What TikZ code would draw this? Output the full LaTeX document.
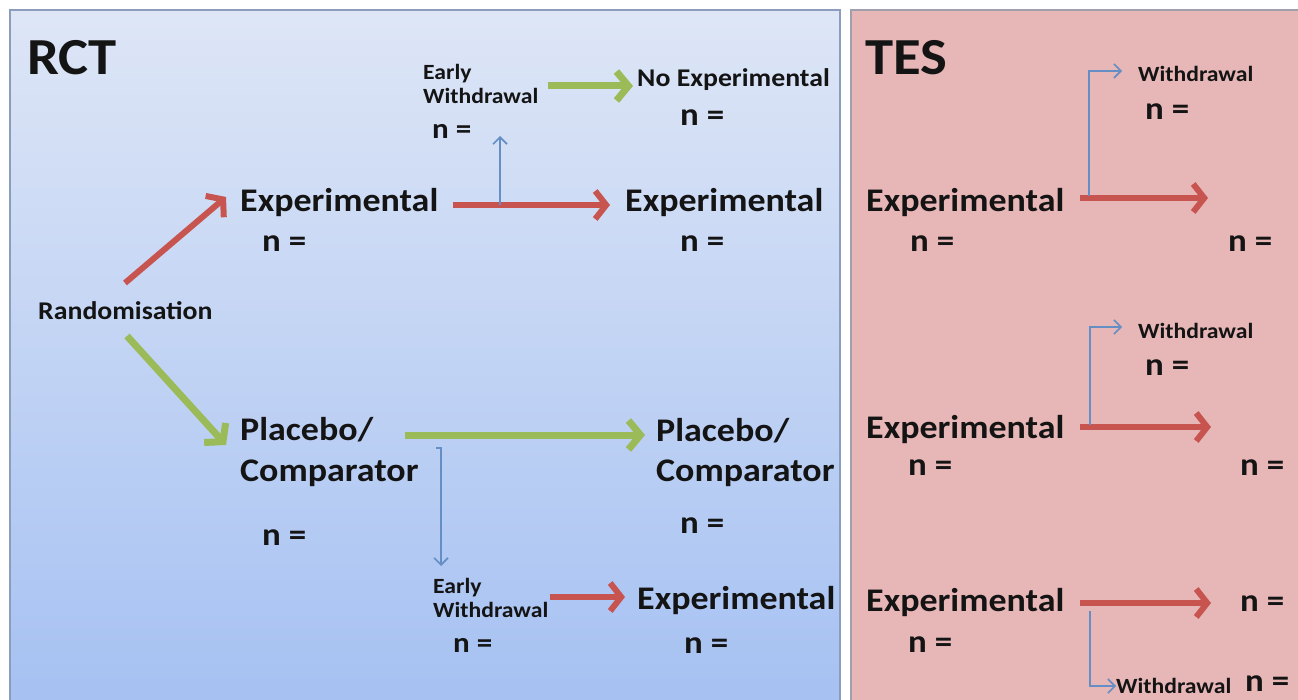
\documentclass[tikz,border=0pt]{standalone}
\usepackage{fontspec}
\setmainfont{Carlito}[FakeStretch=1.09]
\usetikzlibrary{arrows.meta}
\definecolor{redA}{RGB}{200,84,80}
\definecolor{greenA}{RGB}{155,187,89}
\definecolor{blueA}{RGB}{100,142,196}
\definecolor{panelTop}{RGB}{222,230,246}
\definecolor{panelBot}{RGB}{164,192,242}
\definecolor{panelBorder}{RGB}{140,156,188}
\definecolor{pinkFill}{RGB}{231,182,182}
\definecolor{pinkBorder}{RGB}{160,160,172}
\definecolor{ink}{RGB}{20,20,20}
\tikzset{
  base/.style={inner sep=0pt, anchor=west, text=ink},
  big/.style={base, font=\bfseries\fontsize{33}{38}\selectfont},
  nbig/.style={base, font=\bfseries\fontsize{32}{36}\selectfont},
  mid/.style={base, font=\bfseries\fontsize{25.5}{30}\selectfont},
  small/.style={base, font=\bfseries\fontsize{21.7}{24}\selectfont, align=left},
  nsmall/.style={base, font=\bfseries\fontsize{28.5}{32}\selectfont},
  randfont/.style={base, font=\bfseries\fontsize{25.5}{29}\selectfont},
  title/.style={base, font=\bfseries\fontsize{52}{60}\selectfont},
  redarrow/.style={draw=redA, line width=6pt, -{Straight Barb[length=11pt,width=28pt]}},
  greenarrow/.style={draw=greenA, line width=7pt, -{Straight Barb[length=12pt,width=29pt]}},
  bluearrow/.style={draw=blueA, line width=1.6pt, -{Straight Barb[length=7pt,width=14pt]}},
}
\begin{document}
\begin{tikzpicture}[x=1pt,y=-1pt]
\useasboundingbox (0,0) rectangle (1298,700);
\fill[white] (0,0) rectangle (1298,700);
\clip (0,0) rectangle (1298,700);
% panels
\shade[top color=panelTop, bottom color=panelBot] (10,10) rectangle (840,720);
\draw[panelBorder, line width=2pt] (10,720) -- (10,10) -- (840,10) -- (840,720);
\fill[pinkFill] (851,10) rectangle (1310,720);
\draw[pinkBorder, line width=2pt] (851,720) -- (851,10) -- (1310,10);

% ---------- RCT ----------
\node[title] (rct) at (27,58) {RCT};
\node[small] (ew1) at (423,84) {Early\\Withdrawal};
\node[nsmall] (ew1n) at (432,131) {n =};
\node[mid] (noexp) at (637,80) {No Experimental};
\node[nbig] (noexpn) at (680,118) {n =};
\node[big] (exp1) at (240,203) {Experimental};
\node[nbig] (exp1n) at (262,244) {n =};
\node[big] (exp2) at (625,203) {Experimental};
\node[nbig] (exp2n) at (680,244) {n =};
\node[randfont] (rand) at (38,311) {Randomisation};
\node[big] (pl1a) at (240,430) {Placebo/};
\node[big] (pl1b) at (240,473) {Comparator};
\node[nbig] (pl1n) at (262,538) {n =};
\node[big] (pl2a) at (656,431) {Placebo/};
\node[big] (pl2b) at (656,473) {Comparator};
\node[nbig] (pl2n) at (680,526) {n =};
\node[small] (ew2) at (433,598) {Early\\Withdrawal};
\node[nsmall] (ew2n) at (453,645) {n =};
\node[big] (exp3) at (637,601) {Experimental};
\node[nbig] (exp3n) at (684,646) {n =};

\coordinate (r1s) at (125,283);
\coordinate (r1e) at (226,197);
\coordinate (g1s) at (127,336);
\coordinate (g1e) at (226,445);
\draw[redarrow] (r1s) -- (r1e);
\draw[greenarrow] (g1s) -- (g1e);

\draw[redarrow] (453,205) coordinate (a1s) -- (610,205) coordinate (a1e);
\draw[bluearrow] (500,205) coordinate (b1s) -- (500,136) coordinate (b1e);
\draw[greenarrow] (548,86) coordinate (a2s) -- (633,86) coordinate (a2e);

\draw[greenarrow] (405,435) coordinate (a3s) -- (645,435) coordinate (a3e);
\draw[bluearrow] (436,448) coordinate (b2s) -| (441,566) coordinate (b2e);
\draw[redarrow] (550,597) coordinate (a4s) -- (625,597) coordinate (a4e);

% ---------- TES ----------
\node[title] (tes) at (865,58) {TES};
\node[small] (tw1) at (1138,74) {Withdrawal};
\node[nbig] (tw1n) at (1145,112) {n =};
\node[big] (t1) at (866,203) {Experimental};
\node[nbig] (t1n) at (910,244) {n =};
\node[nbig] (t1r) at (1228,244) {n =};
\draw[redarrow] (1080,198) coordinate (c1s) -- (1208,198) coordinate (c1e);
\draw[bluearrow] (1089,196) coordinate (d1s) |- (1122,71) coordinate (d1e);

\node[small] (tw2) at (1138,331) {Withdrawal};
\node[nbig] (tw2n) at (1145,368) {n =};
\node[big] (t2) at (866,430) {Experimental};
\node[nbig] (t2n) at (908,468) {n =};
\node[nbig] (t2r) at (1240,468) {n =};
\draw[redarrow] (1080,427) coordinate (c2s) -- (1211,427) coordinate (c2e);
\draw[bluearrow] (1090,425) coordinate (d2s) |- (1122,327) coordinate (d2e);

\node[big] (t3) at (866,603) {Experimental};
\node[nbig] (t3n) at (908,645) {n =};
\node[nbig] (t3r) at (1240,604) {n =};
\node[small] (tw3) at (1116,686) {Withdrawal};
\node[nbig] (tw3n) at (1245,684) {n =};
\draw[redarrow] (1080,603) coordinate (c3s) -- (1211,603) coordinate (c3e);
\draw[bluearrow] (1090,611) coordinate (d3s) |- (1116,686) coordinate (d3e);
\end{tikzpicture}
\end{document}
